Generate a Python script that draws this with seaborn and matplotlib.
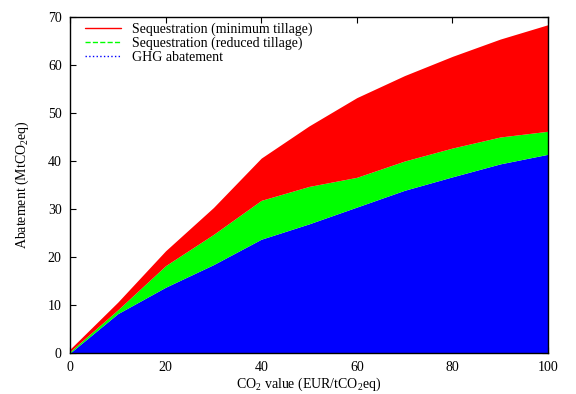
import matplotlib
matplotlib.use("Agg")
import matplotlib.pyplot as plt
import seaborn as sns
import numpy as np
from matplotlib.lines import Line2D

co2_value = [0, 10, 20, 30, 40, 50, 60, 70, 80, 90, 100]
ghg_abatement = [0, 8.2, 13.7, 18.4, 23.7, 26.9, 30.4, 33.9, 36.7, 39.4, 41.4]
total_reduced = [0.3, 9.0, 18.2, 24.7, 31.8, 34.7, 36.6, 40.0, 42.7, 45.0, 46.2]
total_minimum = [0.8, 10.6, 21.3, 30.3, 40.6, 47.3, 53.2, 57.8, 61.8, 65.4, 68.4]

labels = ["Sequestration (minimum tillage)", "Sequestration (reduced tillage)", "GHG abatement"]

reduced_part = [r - g for r, g in zip(total_reduced, ghg_abatement)]
minimum_part = [m - r for m, r in zip(total_minimum, total_reduced)]

sns.set_theme(style="ticks")
plt.rcParams['font.family'] = ['Liberation Serif', 'DejaVu Serif']
plt.rcParams['mathtext.fontset'] = 'custom'
plt.rcParams['mathtext.rm'] = 'Liberation Serif'
plt.rcParams['mathtext.it'] = 'Liberation Serif:italic'
plt.rcParams['text.color'] = 'black'
plt.rcParams['axes.labelcolor'] = 'black'

fig = plt.figure(figsize=(5.76, 3.94), dpi=100)
ax = fig.add_axes([70/576, 1 - 353/394, (548-70)/576, (353-17)/394])

ax.stackplot(co2_value, ghg_abatement, reduced_part, minimum_part,
             colors=["#0000ff", "#00ff00", "#ff0000"], linewidth=0)

ax.set_xlim(0, 100)
ax.set_ylim(0, 70)
ax.set_xticks(range(0, 101, 20))
ax.set_yticks(range(0, 71, 10))
ax.tick_params(direction='in', top=True, right=True, labelsize=10, length=4, width=0.8, pad=6, colors='black')
for s in ax.spines.values():
    s.set_linewidth(1.0)
    s.set_color('black')

ax.set_xlabel("CO$_2$ value (EUR/tCO$_2$eq)", fontsize=10, labelpad=1)
ax.set_ylabel("Abatement (MtCO$_2$eq)", fontsize=10, labelpad=12)

handles = [Line2D([], [], color="#ff0000", lw=1, ls='-'),
           Line2D([], [], color="#00ff00", lw=1, ls='--'),
           Line2D([], [], color="#0000ff", lw=1, ls=':')]
ax.legend(handles, labels, loc='upper left', frameon=False, fontsize=10,
          handlelength=2.6, handletextpad=0.8, labelspacing=0.05,
          borderaxespad=0.0, bbox_to_anchor=(0.02, 1.0))

fig.savefig("out.png", dpi=100)
